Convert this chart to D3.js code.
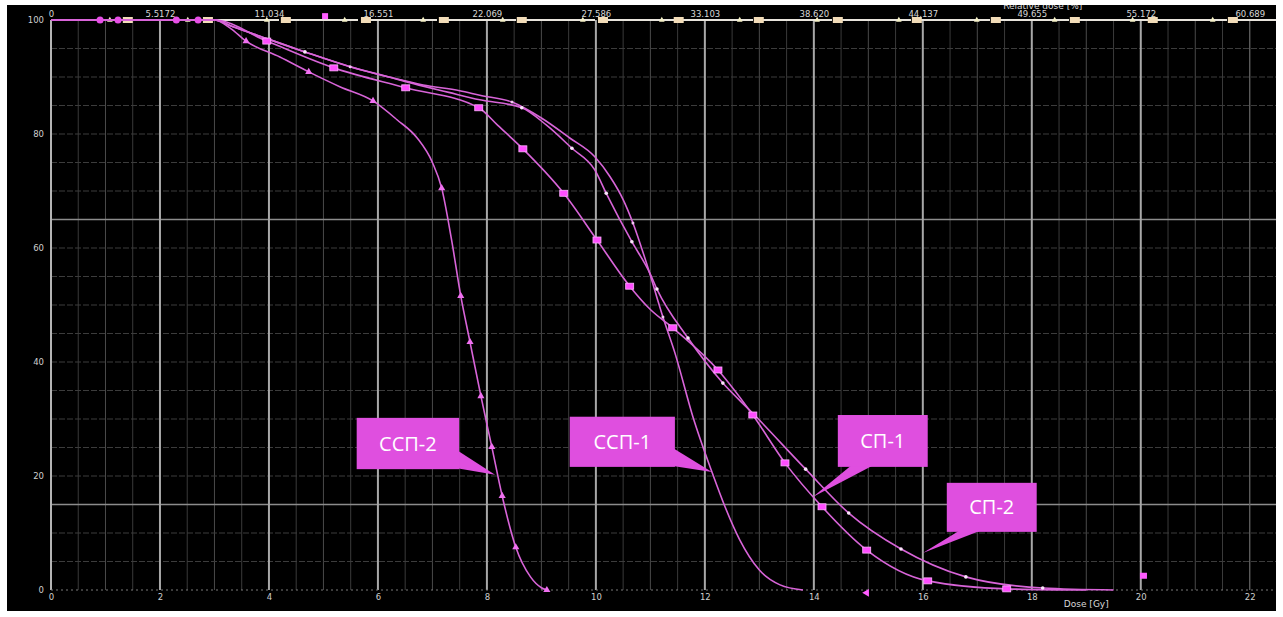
<!DOCTYPE html>
<html>
<head>
<meta charset="utf-8">
<script src="https://cdn.jsdelivr.net/npm/d3@7"></script>
<style>
  html, body { margin: 0; padding: 0; background: #ffffff; }
  svg { display: block; }
</style>
</head>
<body>
<svg id="chart" width="1283" height="617"></svg>
<script>
// ---- axes ----
const doseTicks = [0, 2, 4, 6, 8, 10, 12, 14, 16, 18, 20, 22];
const relDoseLabels = ["0", "5.5172", "11.034", "16.551", "22.069", "27.586",
                       "33.103", "38.620", "44.137", "49.655", "55.172", "60.689"];
const volumeTicks = [0, 20, 40, 60, 80, 100];
const volumeGrid = [5, 10, 25, 30, 35, 45, 50, 55, 70, 75, 85, 90, 95];
const volumeGridBold = [15, 65];

// ---- DVH curves: dose (Gy) / volume (%) ----
const ssp2Dose = [0, 3.0, 3.3, 3.58, 4.2, 4.73, 5.3, 5.91, 6.35, 6.72, 7.0, 7.17, 7.35, 7.52, 7.69, 7.89, 8.09, 8.28, 8.53, 8.8, 9.0, 9.1];
const ssp2Vol  = [100, 100, 98.5, 96.3, 93.5, 90.9, 88.3, 85.8, 82.5, 79.3, 75.0, 70.5, 61.5, 51.6, 43.5, 34.0, 25.1, 16.5, 7.5, 2.3, 0.4, 0];
const ssp2MarkDose = [3.58, 4.73, 5.91, 7.17, 7.52, 7.69, 7.89, 8.09, 8.28, 8.53, 9.1];

const ssp1Dose = [0, 3.0, 3.34, 4.0, 4.66, 5.49, 6.2, 6.83, 7.5, 7.87, 8.46, 9.0, 9.52, 9.98, 10.26, 10.5, 10.68, 10.95, 11.23, 11.45, 11.78, 12.13, 12.37, 12.64, 13.0, 13.38, 13.8];
const ssp1Vol  = [100, 100, 98.8, 96.6, 94.4, 91.8, 90.0, 88.6, 87.6, 86.8, 85.6, 82.8, 79.3, 76.0, 72.5, 68.5, 64.4, 56.7, 47.9, 41.6, 30.4, 20.7, 14.6, 8.8, 3.5, 0.9, 0];
const ssp1MarkDose = [5.49, 8.46, 10.68, 11.23];

const sp1Dose = [0, 3.0, 3.96, 5.19, 6.51, 7.85, 8.2, 8.66, 9.41, 10.02, 10.62, 10.99, 11.41, 12.24, 12.88, 13.47, 14.15, 14.97, 16.09, 17.54, 19.0];
const sp1Vol  = [100, 100, 96.3, 91.6, 88.1, 84.6, 81.5, 77.4, 69.6, 61.4, 53.3, 49.3, 46.0, 38.6, 30.7, 22.3, 14.6, 7.0, 1.6, 0.2, 0];
const sp1MarkDose = [3.96, 5.19, 6.51, 7.85, 8.66, 9.41, 10.02, 10.62, 11.41, 12.24, 12.88, 13.47, 14.15, 14.97, 16.09, 17.54];

const sp2Dose = [0, 3.0, 3.34, 4.0, 4.66, 5.49, 6.2, 6.83, 7.3, 7.87, 8.64, 9.1, 9.56, 9.98, 10.19, 10.66, 10.99, 11.12, 11.69, 12.33, 12.88, 13.85, 14.64, 15.6, 16.79, 18.2, 19.5];
const sp2Vol  = [100, 100, 98.8, 96.6, 94.4, 91.8, 90.0, 88.4, 87.3, 86.0, 84.6, 81.5, 77.5, 73.7, 69.6, 61.1, 55.6, 52.8, 44.2, 36.3, 31.0, 21.2, 13.5, 7.2, 2.3, 0.35, 0];
const sp2MarkDose = [4.66, 8.64, 9.56, 10.19, 10.66, 11.12, 11.69, 12.33, 13.85, 14.64, 15.6, 16.79, 18.2];

// reference structure held at 100 % over the whole dose range
const refDose = [0, 22.5];
const refVol = [100, 100];
const refSquareDose = [1.41, 2.88, 4.31, 5.78, 7.21, 8.64, 10.13, 11.52, 12.99, 14.44, 15.89, 17.34, 18.79, 20.22, 21.69];
const refTriangleDose = [1.08, 2.51, 3.96, 5.39, 6.83, 8.29, 9.76, 11.21, 12.64, 14.06, 15.56, 16.99, 18.42, 19.85, 21.32];
const pinkTopDose = [0.9, 1.23, 2.3, 2.7];

// isolated markers
const strayDose = [20.04, 14.97, 5.03];
const strayVol  = [2.5, -0.5, 100.5];

// ---- callouts ----
const calloutText = ["ССП-2", "ССП-1", "СП-1", "СП-2"];
const calloutBoxDose = [[5.61, 7.49], [9.52, 11.45], [14.44, 16.09], [16.44, 18.09]];
const calloutBoxVol  = [[30.2, 21.2], [30.4, 21.6], [30.7, 21.6], [18.8, 10.2]];
const calloutTipDose = [8.15, 12.13, 13.98, 16.0];
const calloutTipVol  = [20.2, 20.7, 16.3, 6.5];
const calloutSide    = ["right", "right", "bottom", "bottom"];

// ---- drawing ----
const W = 1283, H = 617;
const svg = d3.select("#chart");
const x = d3.scaleLinear().domain([0, 22.5]).range([51, 1277]);
const y = d3.scaleLinear().domain([0, 100]).range([590, 20]);

svg.append("defs").append("clipPath").attr("id", "panel")
  .append("rect").attr("x", 7).attr("y", 5).attr("width", 1269).attr("height", 606);

svg.append("rect").attr("x", 7).attr("y", 5).attr("width", 1269).attr("height", 606).attr("fill", "#000");

const root = svg.append("g").attr("clip-path", "url(#panel)");
const grid = root.append("g");

// minor vertical grid every 0.5 Gy
const minorDose = d3.range(0.5, 22.51, 0.5).filter(d => d % 2 !== 0);
grid.selectAll(".vminor").data(minorDose).join("line")
  .attr("x1", d => x(d)).attr("x2", d => x(d))
  .attr("y1", y(100)).attr("y2", y(0))
  .attr("stroke", d => (d % 1 === 0 ? "#4a4a4a" : "#3a3a3a"))
  .attr("stroke-width", 1);

// horizontal grid every 5 %
grid.selectAll(".hminor").data(volumeGrid.concat([20, 40, 60, 80])).join("line")
  .attr("x1", x(0)).attr("x2", x(22.5))
  .attr("y1", d => y(d)).attr("y2", d => y(d))
  .attr("stroke", "#3c3c3c").attr("stroke-width", 1)
  .attr("stroke-dasharray", "6,2");

grid.selectAll(".hbold").data(volumeGridBold).join("line")
  .attr("x1", x(0)).attr("x2", x(22.5))
  .attr("y1", d => y(d)).attr("y2", d => y(d))
  .attr("stroke", "#8c8c8c").attr("stroke-width", 1.3);

// major vertical grid every 2 Gy
grid.selectAll(".vmajor").data(doseTicks.filter(d => d > 0)).join("line")
  .attr("x1", d => x(d)).attr("x2", d => x(d))
  .attr("y1", y(100)).attr("y2", y(0))
  .attr("stroke", d => (d === 22 ? "#6a6a6a" : "#a8a8a8"))
  .attr("stroke-width", d => (d === 22 ? 1.2 : 2));

// axis lines
root.append("line").attr("x1", x(0)).attr("x2", x(0)).attr("y1", y(100)).attr("y2", y(0))
  .attr("stroke", "#b4b4b4").attr("stroke-width", 2);
root.append("line").attr("x1", x(0)).attr("x2", x(22.5)).attr("y1", y(0)).attr("y2", y(0))
  .attr("stroke", "#7a7a7a").attr("stroke-width", 1).attr("stroke-dasharray", "2,3");

// axis labels
const labelFont = "DejaVu Sans, sans-serif";
const bottomAxis = d3.axisBottom(x).tickValues(doseTicks).tickSize(0).tickPadding(4).tickFormat(d3.format("d"));
const gB = root.append("g").attr("transform", `translate(0,${y(0)})`).call(bottomAxis);
gB.select(".domain").remove();
gB.selectAll("text").attr("fill", "#cfcfcf").attr("font-size", 8.5).attr("font-family", labelFont);

const topAxis = d3.axisTop(x).tickValues(doseTicks).tickSize(0).tickPadding(3)
  .tickFormat((d, i) => relDoseLabels[i]);
const gT = root.append("g").attr("transform", `translate(0,${y(100)})`).call(topAxis);
gT.select(".domain").remove();
gT.selectAll("text").attr("fill", "#d8d8d8").attr("font-size", 8.5).attr("font-family", labelFont);

const leftAxis = d3.axisLeft(y).tickValues(volumeTicks).tickSize(0).tickPadding(7).tickFormat(d3.format("d"));
const gL = root.append("g").attr("transform", `translate(${x(0)},0)`).call(leftAxis);
gL.select(".domain").remove();
gL.selectAll("text").attr("fill", "#cfcfcf").attr("font-size", 8.5).attr("font-family", labelFont);

root.append("text").attr("x", x(19.0)).attr("y", 607).attr("text-anchor", "middle")
  .attr("fill", "#d8d8d8").attr("font-size", 9).attr("font-family", labelFont).text("Dose [Gy]");
root.append("text").attr("x", x(18.2)).attr("y", 9).attr("text-anchor", "middle")
  .attr("fill", "#d8d8d8").attr("font-size", 9).attr("font-family", labelFont).text("Relative dose [%]");

// reference line at 100 %
const line = d3.line().x(d => x(d[0])).y(d => y(d[1])).curve(d3.curveMonotoneX);
root.append("path").datum(d3.zip(refDose, refVol)).attr("d", line)
  .attr("fill", "none").attr("stroke", "#e8e4dc").attr("stroke-width", 2.2)
  .attr("stroke-dasharray", "70,9");
root.selectAll(".refSq").data(refSquareDose).join("rect")
  .attr("x", d => x(d) - 5).attr("y", y(100) - 3).attr("width", 10).attr("height", 6)
  .attr("fill", "#f2dcb8");
root.selectAll(".refTri").data(refTriangleDose).join("path")
  .attr("transform", d => `translate(${x(d)},${y(100)})`)
  .attr("d", d3.symbol(d3.symbolTriangle, 14)).attr("fill", "#f7f2c8");

// DVH curves
const curveColor = "#d864d8";
const series = [
  { dose: ssp2Dose, vol: ssp2Vol },
  { dose: ssp1Dose, vol: ssp1Vol },
  { dose: sp1Dose, vol: sp1Vol },
  { dose: sp2Dose, vol: sp2Vol }
];
series.forEach(s => {
  root.append("path").datum(d3.zip(s.dose, s.vol)).attr("d", line)
    .attr("fill", "none").attr("stroke", curveColor).attr("stroke-width", 1.6);
});

// value on a curve at a given dose
function volAt(doses, vols, d) {
  const pts = d3.zip(doses, vols);
  for (let i = 1; i < pts.length; i++) {
    if (d <= pts[i][0]) {
      const t = (d - pts[i - 1][0]) / (pts[i][0] - pts[i - 1][0]);
      return pts[i - 1][1] + t * (pts[i][1] - pts[i - 1][1]);
    }
  }
  return vols[vols.length - 1];
}

root.selectAll(".pinkTop").data(pinkTopDose).join("circle")
  .attr("cx", d => x(d)).attr("cy", y(100)).attr("r", 3.5).attr("fill", "#e64fe6");

// square markers
root.selectAll(".sq").data(sp1MarkDose).join("rect")
  .attr("x", d => x(d) - 4).attr("y", d => y(volAt(sp1Dose, sp1Vol, d)) - 3)
  .attr("width", 8).attr("height", 6).attr("fill", "#ff4dff").attr("stroke", "#ffb0ff").attr("stroke-width", 0.8);
// triangle markers
root.selectAll(".tri").data(ssp2MarkDose).join("path")
  .attr("transform", d => `translate(${x(d)},${y(volAt(ssp2Dose, ssp2Vol, d))})`)
  .attr("d", d3.symbol(d3.symbolTriangle, 22)).attr("fill", "#f070f0");
// dot markers
root.selectAll(".dot").data(sp2MarkDose).join("circle")
  .attr("cx", d => x(d)).attr("cy", d => y(volAt(sp2Dose, sp2Vol, d))).attr("r", 1.8)
  .attr("fill", "#fbe6fb");
// dash markers
root.selectAll(".dash").data(ssp1MarkDose).join("circle")
  .attr("cx", d => x(d)).attr("cy", d => y(volAt(ssp1Dose, ssp1Vol, d))).attr("r", 1.5)
  .attr("fill", "#f5c8f5");

// isolated markers
root.append("rect").attr("x", x(strayDose[0]) - 3).attr("y", y(strayVol[0]) - 3)
  .attr("width", 7).attr("height", 6).attr("fill", "#ff5cff");
root.append("path").attr("transform", `translate(${x(strayDose[1])},${y(strayVol[1])}) rotate(-90)`)
  .attr("d", d3.symbol(d3.symbolTriangle, 26)).attr("fill", "#ff5cff");
root.append("rect").attr("x", x(strayDose[2]) - 3).attr("y", y(strayVol[2]) - 4)
  .attr("width", 6).attr("height", 6).attr("fill", "#ff5cff");

// callouts
const boxColor = "#df4fdf";
calloutText.forEach((t, i) => {
  const x0 = x(calloutBoxDose[i][0]), x1 = x(calloutBoxDose[i][1]);
  const y0 = y(calloutBoxVol[i][0]), y1 = y(calloutBoxVol[i][1]);
  const tx = x(calloutTipDose[i]), ty = y(calloutTipVol[i]);
  const g = root.append("g");
  let wedge;
  if (calloutSide[i] === "right") {
    wedge = [[x1 - 2, y1 - 19], [tx, ty], [x1 - 2, y1 - 1]];
  } else {
    wedge = [[x0 + 14, y1 - 2], [tx, ty], [x0 + 36, y1 - 2]];
  }
  g.append("path").attr("d", d3.line()(wedge) + "Z").attr("fill", boxColor);
  g.append("rect").attr("x", x0).attr("y", y0).attr("width", x1 - x0).attr("height", y1 - y0)
    .attr("fill", boxColor);
  g.append("text").attr("x", (x0 + x1) / 2).attr("y", (y0 + y1) / 2 + 7)
    .attr("text-anchor", "middle").attr("fill", "#ffffff")
    .attr("font-family", "Open Sans, Noto Sans, sans-serif").attr("font-size", 20)
    .text(t);
});
</script>
</body>
</html>
